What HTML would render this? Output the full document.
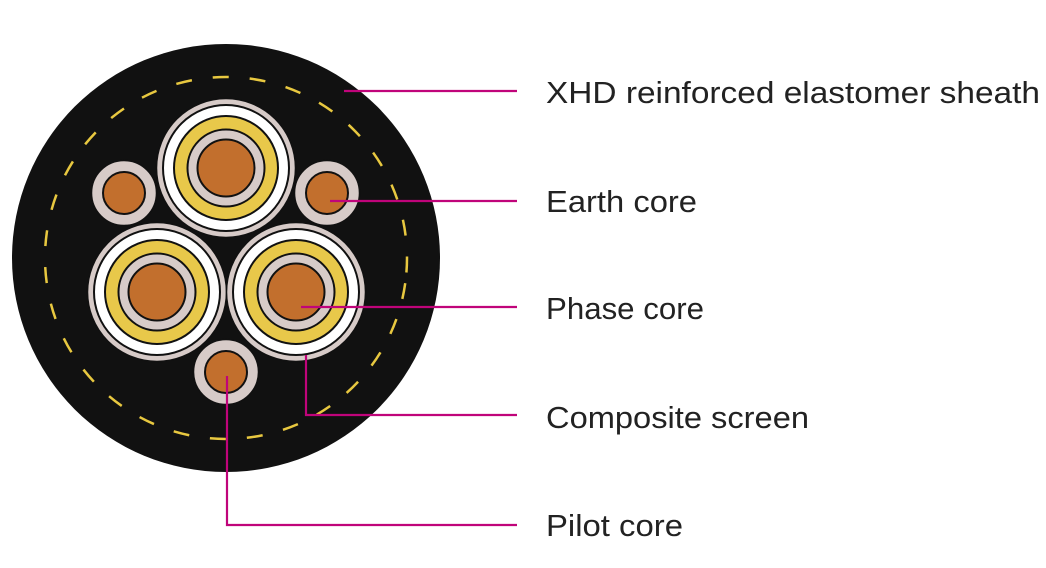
<!DOCTYPE html>
<html><head><meta charset="utf-8"><style>html,body{margin:0;padding:0;background:#fff}svg{display:block}</style></head><body>
<svg width="1046" height="568" viewBox="0 0 1046 568" xmlns="http://www.w3.org/2000/svg">
<circle cx="226" cy="258" r="214" fill="#111"/>
<circle cx="226" cy="258" r="181" fill="none" stroke="#e8c840" stroke-width="2.5" stroke-dasharray="16 21" transform="rotate(8 226 258)"/>
<defs>
<g id="ph">
<circle r="69.5" fill="#d7cbc8" stroke="#111" stroke-width="1.5"/>
<circle r="63" fill="#fff" stroke="#111" stroke-width="2"/>
<circle r="52" fill="#e8c84a" stroke="#111" stroke-width="2"/>
<circle r="38.5" fill="#d7cbc8" stroke="#111" stroke-width="2"/>
<circle r="28.5" fill="#c26f2d" stroke="#111" stroke-width="2"/>
</g>
<g id="sm">
<circle r="32.5" fill="#d7cbc8" stroke="#111" stroke-width="1.5"/>
<circle r="21" fill="#c26f2d" stroke="#111" stroke-width="2"/>
</g>
</defs>
<use href="#ph" x="226" y="168"/>
<use href="#ph" x="157" y="292"/>
<use href="#ph" x="296" y="292"/>
<use href="#sm" x="124" y="193"/>
<use href="#sm" x="327" y="193"/>
<use href="#sm" x="226" y="372"/>
<g stroke="#c0047a" stroke-width="2.2" fill="none">
<path d="M344 91H517"/>
<path d="M330 201H517"/>
<path d="M301 307H517"/>
<path d="M306 355V415H517"/>
<path d="M227 376V525H517"/>
</g>
<g font-family="Liberation Sans, sans-serif" font-size="31" fill="#222">
<text x="546" y="103" textLength="494" lengthAdjust="spacingAndGlyphs">XHD reinforced elastomer sheath</text>
<text x="546" y="212" textLength="151" lengthAdjust="spacingAndGlyphs">Earth core</text>
<text x="546" y="319" textLength="158" lengthAdjust="spacingAndGlyphs">Phase core</text>
<text x="546" y="428" textLength="263" lengthAdjust="spacingAndGlyphs">Composite screen</text>
<text x="546" y="536" textLength="137" lengthAdjust="spacingAndGlyphs">Pilot core</text>
</g>
</svg>
</body></html>
